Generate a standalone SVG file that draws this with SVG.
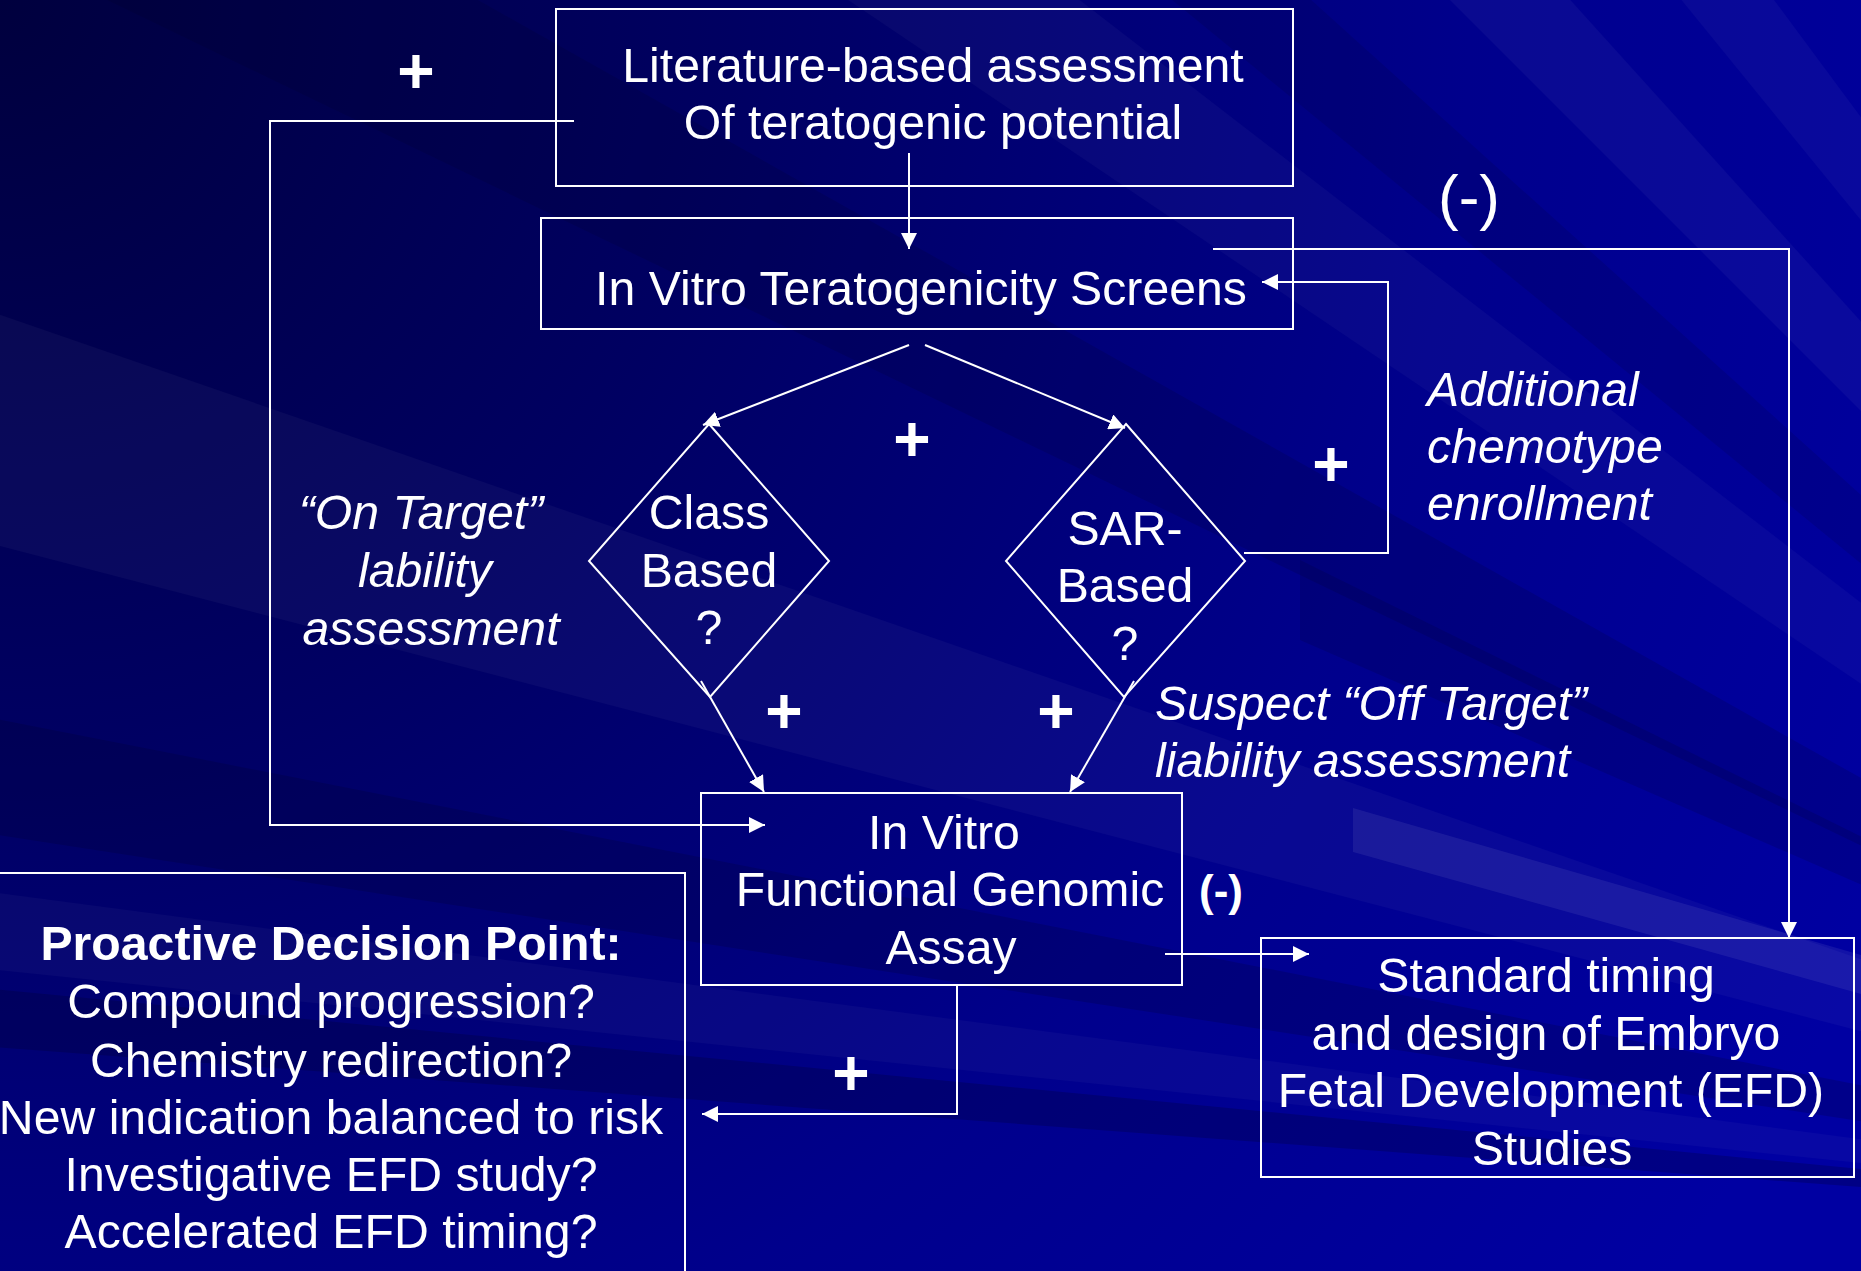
<svg xmlns="http://www.w3.org/2000/svg" width="1861" height="1271" viewBox="0 0 1861 1271">
  <defs>
    <radialGradient id="bg" cx="0" cy="0" r="2100" gradientUnits="userSpaceOnUse">
      <stop offset="0" stop-color="#00003e"/>
      <stop offset="0.35" stop-color="#000062"/>
      <stop offset="0.7" stop-color="#00008c"/>
      <stop offset="1" stop-color="#0000a2"/>
    </radialGradient>
    <marker id="arrow" markerWidth="16" markerHeight="16" refX="16" refY="8" orient="auto" markerUnits="userSpaceOnUse">
      <path d="M0,0 L16,8 L0,16 z" fill="#ffffff"/>
    </marker>
    <style>
      .box { fill: none; stroke: #ffffff; stroke-width: 2; }
      .link { fill: none; stroke: #ffffff; stroke-width: 2; }
      .arrowed { marker-end: url(#arrow); }
      text { font-family: "Liberation Sans", Arial, sans-serif; fill: #ffffff; }
      .t { font-size: 48.2px; text-anchor: middle; }
      .it { font-size: 48.2px; font-style: italic; }
      .b { font-weight: bold; }
      .plus { font-size: 64px; font-weight: bold; text-anchor: middle; }
      .light { fill: #ffffff; }
      .dark { fill: #000020; }
    </style>
  </defs>

  <!-- background with streaks -->
  <rect x="0" y="0" width="1861" height="1271" fill="url(#bg)"/>
  <g id="streaks">
    <polygon class="light" opacity="0.035" points="2700,1250 -100,280 -100,520"/>
    <polygon class="dark" opacity="0.18" points="2700,1250 -100,700 -100,820"/>
    <polygon class="light" opacity="0.03" points="2700,1250 -100,880 -100,960"/>
    <polygon class="dark" opacity="0.22" points="2700,1250 -100,980 -100,1040"/>
    <polygon class="dark" opacity="0.15" points="2700,1250 -100,-100 300,-100"/>
    <polygon class="light" opacity="0.03" points="2700,1250 700,-100 950,-100"/>
    <polygon class="dark" opacity="0.12" points="2700,1250 1050,-100 1200,-100"/>
    <polygon class="light" opacity="0.04" points="2700,1250 1350,-100 1480,-100"/>
    <polygon class="light" opacity="0.035" points="2700,1250 1600,-100 1700,-100"/>
    <polygon class="dark" opacity="0.15" points="2700,1250 1300,560 1300,640"/>
    <polygon class="light" opacity="0.07" points="1353,808 1353,852 1861,994 1861,955"/>
  </g>

  <!-- connectors -->
  <g id="connectors">
    <line class="link arrowed" x1="909" y1="153" x2="909" y2="249"/>
    <polyline class="link arrowed" points="574,121 270,121 270,825 765,825"/>
    <line class="link arrowed" x1="909" y1="345" x2="703" y2="425"/>
    <line class="link arrowed" x1="925" y1="345" x2="1125" y2="428"/>
    <line class="link arrowed" x1="701" y1="681" x2="764" y2="792"/>
    <line class="link arrowed" x1="1134" y1="681" x2="1070" y2="792"/>
    <polyline class="link arrowed" points="957,985 957,1114 702,1114"/>
    <line class="link arrowed" x1="1165" y1="954" x2="1309" y2="954"/>
    <polyline class="link arrowed" points="1213,249 1789,249 1789,938"/>
    <polyline class="link arrowed" points="1244,553 1388,553 1388,282 1262,282"/>
  </g>

  <!-- nodes -->
  <g id="literature">
    <rect class="box" x="556" y="9" width="737" height="177"/>
    <text class="t" x="933" y="82">Literature-based assessment</text>
    <text class="t" x="933" y="139">Of teratogenic potential</text>
  </g>

  <g id="screens">
    <rect class="box" x="541" y="218" width="752" height="111"/>
    <text class="t" x="921" y="305">In Vitro Teratogenicity Screens</text>
  </g>

  <g id="class-based">
    <polygon class="box" points="709,424 829,561 710,697 589,561"/>
    <text class="t" x="709" y="529">Class</text>
    <text class="t" x="709" y="587">Based</text>
    <text class="t" x="709" y="644">?</text>
  </g>

  <g id="sar-based">
    <polygon class="box" points="1126,424 1245,561 1124,697 1006,561"/>
    <text class="t" x="1125" y="545">SAR-</text>
    <text class="t" x="1125" y="602">Based</text>
    <text class="t" x="1125" y="660">?</text>
  </g>

  <g id="assay">
    <rect class="box" x="701" y="793" width="481" height="192"/>
    <text class="t" x="944" y="849">In Vitro</text>
    <text class="t" x="950" y="906">Functional Genomic</text>
    <text class="t" x="951" y="964">Assay</text>
  </g>

  <g id="decision">
    <rect class="box" x="-5" y="873" width="690" height="420"/>
    <text class="t b" x="331" y="960">Proactive Decision Point:</text>
    <text class="t" x="331" y="1018">Compound progression?</text>
    <text class="t" x="331" y="1077">Chemistry redirection?</text>
    <text class="t" x="331" y="1134">New indication balanced to risk</text>
    <text class="t" x="331" y="1191">Investigative EFD study?</text>
    <text class="t" x="331" y="1248">Accelerated EFD timing?</text>
  </g>

  <g id="standard-efd">
    <rect class="box" x="1261" y="938" width="593" height="239"/>
    <text class="t" x="1546" y="992">Standard timing</text>
    <text class="t" x="1546" y="1050">and design of Embryo</text>
    <text class="t" x="1551" y="1107">Fetal Development (EFD)</text>
    <text class="t" x="1552" y="1165">Studies</text>
  </g>

  <!-- annotations -->
  <g id="annotations">
    <text class="it" x="421" y="529" text-anchor="middle">“On Target”</text>
    <text class="it" x="425" y="587" text-anchor="middle">lability</text>
    <text class="it" x="431" y="645" text-anchor="middle">assessment</text>
    <text class="it" x="1427" y="406">Additional</text>
    <text class="it" x="1427" y="463">chemotype</text>
    <text class="it" x="1427" y="520">enrollment</text>
    <text class="it" x="1155" y="720">Suspect “Off Target”</text>
    <text class="it" x="1155" y="777">liability assessment</text>
    <text x="1469" y="218" font-size="62" text-anchor="middle">(-)</text>
    <text class="b" x="1221" y="906" font-size="44" text-anchor="middle">(-)</text>
    <text class="plus" x="416" y="93">+</text>
    <text class="plus" x="912" y="461">+</text>
    <text class="plus" x="1331" y="486">+</text>
    <text class="plus" x="784" y="733">+</text>
    <text class="plus" x="1056" y="733">+</text>
    <text class="plus" x="851" y="1095">+</text>
  </g>
</svg>
